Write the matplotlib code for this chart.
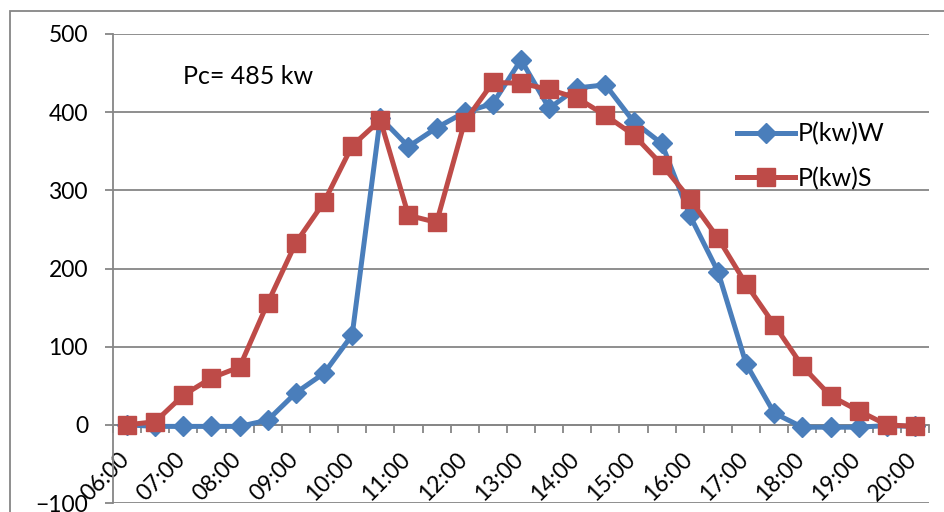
import matplotlib
matplotlib.use("Agg")
import matplotlib.pyplot as plt
from matplotlib.patches import Rectangle
from matplotlib.transforms import ScaledTranslation

plt.rcParams["font.family"] = ["Lato", "DejaVu Sans"]

# Data: half-hour readings from 06:00 to 20:00
times = ["06:00", "06:30", "07:00", "07:30", "08:00", "08:30", "09:00", "09:30",
         "10:00", "10:30", "11:00", "11:30", "12:00", "12:30", "13:00", "13:30",
         "14:00", "14:30", "15:00", "15:30", "16:00", "16:30", "17:00", "17:30",
         "18:00", "18:30", "19:00", "19:30", "20:00"]
p_w = [0, -2, -2, -2, -2, 6, 41, 66, 115, 393, 356, 380, 400, 411, 467, 405,
       431, 435, 388, 360, 268, 196, 78, 15, -3, -3, -3, -1, -2]
p_s = [0, 4, 38, 60, 74, 156, 233, 285, 357, 390, 268, 259, 388, 438, 437, 429,
       418, 396, 371, 333, 289, 239, 180, 128, 75, 37, 18, 0, -2]

blue = "#4A7EBB"
red = "#BE4B48"
grey = "#868686"

fig = plt.figure(figsize=(9.44, 5.12), dpi=100)
ax = fig.add_axes([113 / 944, 1 - 503 / 512, (929 - 113) / 944, (503 - 34) / 512])

x = list(range(len(times)))
ax.plot(x, p_w, color=blue, lw=3.6, marker="D", ms=10, label="P(kw)W", zorder=3)
ax.plot(x, p_s, color=red, lw=3.6, marker="s", ms=13, label="P(kw)S", zorder=4)

ax.set_xlim(-0.5, len(times) - 0.5)
ax.set_ylim(-100, 500)
ax.set_yticks(range(-100, 501, 100))
ax.grid(axis="y", color=grey, lw=1.3)
ax.set_axisbelow(True)

for s in ["top", "right"]:
    ax.spines[s].set_visible(False)
ax.spines["left"].set_color(grey)
ax.spines["left"].set_linewidth(1.3)
ax.spines["bottom"].set_position(("data", 0))
ax.spines["bottom"].set_color(grey)
ax.spines["bottom"].set_linewidth(1.3)

ax.tick_params(axis="y", length=6, width=1.3, color=grey, pad=12, labelsize=16.5)

# category boundaries get the tick marks, every other category a label
ax.set_xticks([i - 0.5 for i in range(len(times) + 1)], minor=True)
ax.set_xticks(x[::2])
ax.set_xticklabels(times[::2])
ax.tick_params(axis="x", which="minor", length=6, width=1.3, color=grey, direction="out")
ax.tick_params(axis="x", which="major", length=0, pad=17, labelsize=16.5)
off = ScaledTranslation(6 / 100, 0, fig.dpi_scale_trans)
for lab in ax.get_xticklabels():
    lab.set_rotation(45)
    lab.set_ha("right")
    lab.set_va("top")
    lab.set_transform(lab.get_transform() + off)

# annotation, placed in pixel coordinates (origin bottom-left)
ax.text(183, 512 - 77, "Pc= 485 kw", transform=None, fontsize=18,
        va="center", ha="left")

ax.legend(loc="center left", bbox_to_anchor=(737 / 944, 1 - 156 / 512),
          bbox_transform=fig.transFigure, frameon=False, fontsize=18,
          numpoints=1, handlelength=2.3, handletextpad=0.15, labelspacing=0.85,
          borderpad=0, borderaxespad=0)

# chart-area border
fig.patches.append(Rectangle((10 / 944, -0.2), 1.2, 1.2 - 11 / 512,
                             transform=fig.transFigure, fill=False,
                             edgecolor=grey, lw=1.3))

fig.savefig("out.png", dpi=100)
